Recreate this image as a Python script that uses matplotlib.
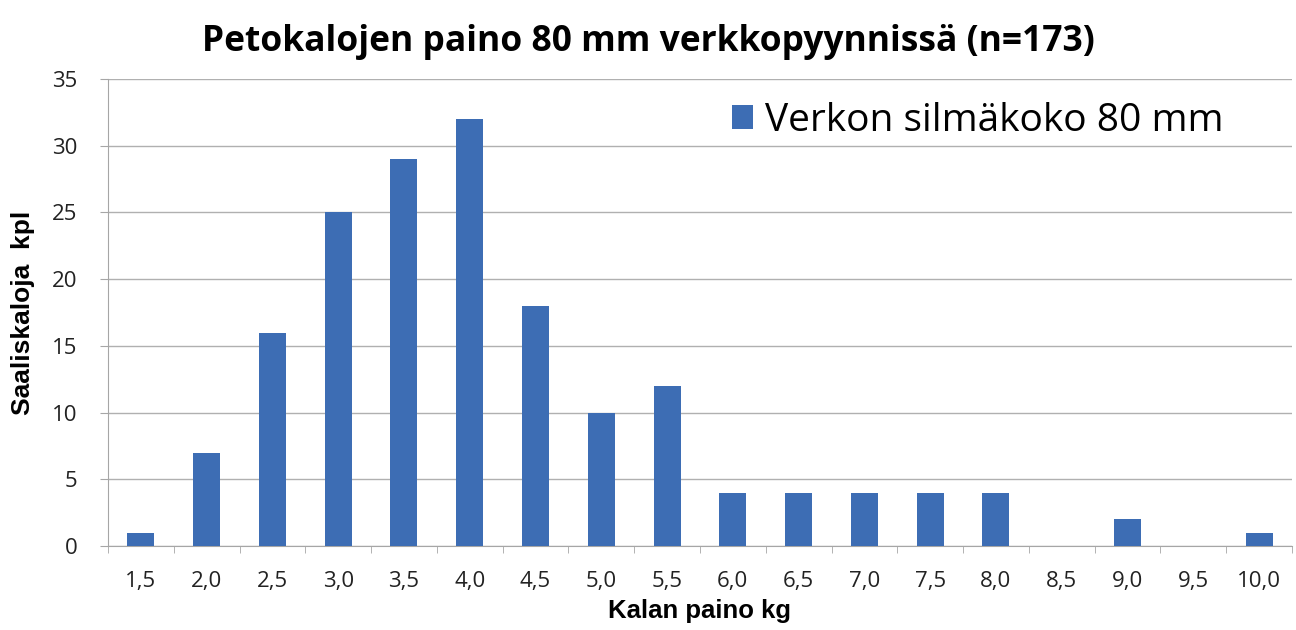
import numpy as np
import matplotlib
matplotlib.use("Agg")
import matplotlib.pyplot as plt

# painoluokat (kg) ja saaliskalojen lukumäärät
luokat = ["1,5", "2,0", "2,5", "3,0", "3,5", "4,0", "4,5", "5,0", "5,5",
          "6,0", "6,5", "7,0", "7,5", "8,0", "8,5", "9,0", "9,5", "10,0"]
kpl = [1, 7, 16, 25, 29, 32, 18, 10, 12, 4, 4, 4, 4, 4, 0, 2, 0, 1]
sarja = "Verkon silmäkoko 80 mm"
otsikko = "Petokalojen paino 80 mm verkkopyynnissä (n=173)"

fig = plt.figure(figsize=(12.96, 6.3), dpi=100)
ax = fig.add_axes([0.0833, 0.1333, 0.9136, 0.7413])

x = np.arange(len(luokat))
ax.bar(x, kpl, width=0.41, color="#3d6db4", label=sarja, zorder=3)

ax.set_xlim(-0.5, len(luokat) - 0.5)
ax.set_ylim(0, 35)
ax.set_yticks(range(0, 36, 5))
ax.yaxis.grid(True, color="#b0b0b0", linewidth=1.0, zorder=0)
ax.set_xticks(x)
ax.set_xticklabels(luokat, fontsize=16, family="Open Sans", color="#222222")
ax.set_xticks(np.arange(-0.5, len(luokat), 1), minor=True)
ax.tick_params(axis="x", which="major", length=0, pad=18)
ax.tick_params(axis="x", which="minor", length=5, color="#a6a6a6")
ax.tick_params(axis="y", length=6, color="#a6a6a6", labelsize=16, pad=16)
for lab in ax.get_yticklabels():
    lab.set_family("Open Sans")
    lab.set_color("#222222")

for s in ["top", "right"]:
    ax.spines[s].set_visible(False)
ax.spines["left"].set_color("#a6a6a6")
ax.spines["bottom"].set_color("#a6a6a6")

ax.set_xlabel("Kalan paino kg", fontsize=18.5, fontweight="bold",
              family="Liberation Sans", labelpad=5)
ax.set_ylabel("Saaliskaloja  kpl", fontsize=19, fontweight="bold",
              family="Liberation Sans", labelpad=12)

fig.text(0.5, 0.919, otsikko, ha="center", va="baseline", fontsize=25.5,
         fontweight="bold", family="Open Sans")

ax.legend(loc="upper right", bbox_to_anchor=(0.955, 0.985), frameon=False,
          prop={"family": "Open Sans", "size": 28}, handlelength=0.55,
          handleheight=0.55, handletextpad=0.3, borderaxespad=0)

fig.savefig("out.png", dpi=100, facecolor="white")
